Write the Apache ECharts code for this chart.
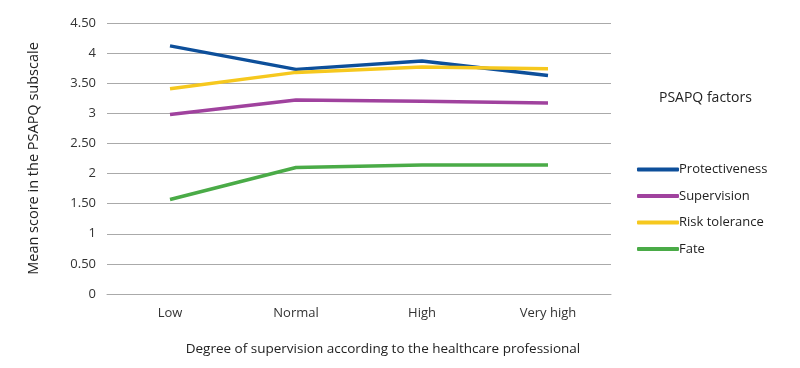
<!DOCTYPE html>
<html>
<head>
<meta charset="utf-8">
<script src="https://cdn.jsdelivr.net/npm/echarts@6/dist/echarts.min.js"></script>
<style>html,body{margin:0;padding:0;background:#fff}#c{width:800px;height:368px}</style>
</head>
<body>
<div id="c"></div>
<script>
var categories = ['Low', 'Normal', 'High', 'Very high'];
var protectiveness = [4.12, 3.73, 3.87, 3.63];
var supervision = [2.98, 3.22, 3.20, 3.17];
var riskTolerance = [3.41, 3.68, 3.77, 3.74];
var fate = [1.57, 2.10, 2.14, 2.14];
var seriesNames = ['Protectiveness', 'Supervision', 'Risk tolerance', 'Fate'];
var seriesColors = ['#0d4f9a', '#a0429e', '#f6c81e', '#4aab47'];

var font = 'Open Sans';
var dataSets = [protectiveness, supervision, riskTolerance, fate];
var chart = echarts.init(document.getElementById('c'), null, {renderer: 'canvas'});
chart.setOption({
  animation: false,
  title: {
    text: 'PSAPQ factors', left: 654, top: 86,
    textStyle: {fontFamily: font, fontSize: 14, fontWeight: 'normal', color: '#222'}
  },
  legend: {
    orient: 'vertical', left: 632, top: 158,
    icon: 'roundRect', itemWidth: 42, itemHeight: 4, itemGap: 13.5,
    textStyle: {fontFamily: font, fontSize: 13, color: '#222', padding: [0,0,0,-5]},
    data: seriesNames
  },
  grid: {left: 107, right: 189, top: 23, bottom: 74},
  xAxis: {
    type: 'category', data: categories, boundaryGap: true,
    axisLine: {lineStyle: {color: '#aaa', width: 1}},
    axisTick: {show: false},
    axisLabel: {fontFamily: font, fontSize: 13, color: '#333', margin: 13},
    name: 'Degree of supervision according to the healthcare professional',
    nameLocation: 'middle', nameGap: 48,
    nameTextStyle: {fontFamily: font, fontSize: 13.5, color: '#222', padding: [0, 0, 0, 48]}
  },
  yAxis: {
    type: 'value', min: 0, max: 4.5, interval: 0.5,
    axisLine: {show: false}, axisTick: {show: false},
    splitLine: {lineStyle: {color: '#aaa', width: 1}},
    axisLabel: {fontFamily: font, fontSize: 13, color: '#333', margin: 11,
      formatter: function (v) { return (Math.abs(v % 1) < 1e-9) ? String(v) : v.toFixed(2); }},
    name: 'Mean score in the PSAPQ subscale',
    nameLocation: 'middle', nameGap: 66,
    nameTextStyle: {fontFamily: font, fontSize: 14.5, color: '#222'}
  },
  series: dataSets.map(function (d, i) {
    return {
      name: seriesNames[i], type: 'line', data: d,
      showSymbol: false, symbol: 'none',
      lineStyle: {color: seriesColors[i], width: 3.5},
      itemStyle: {color: seriesColors[i]}
    };
  })
});
</script>
</body>
</html>
